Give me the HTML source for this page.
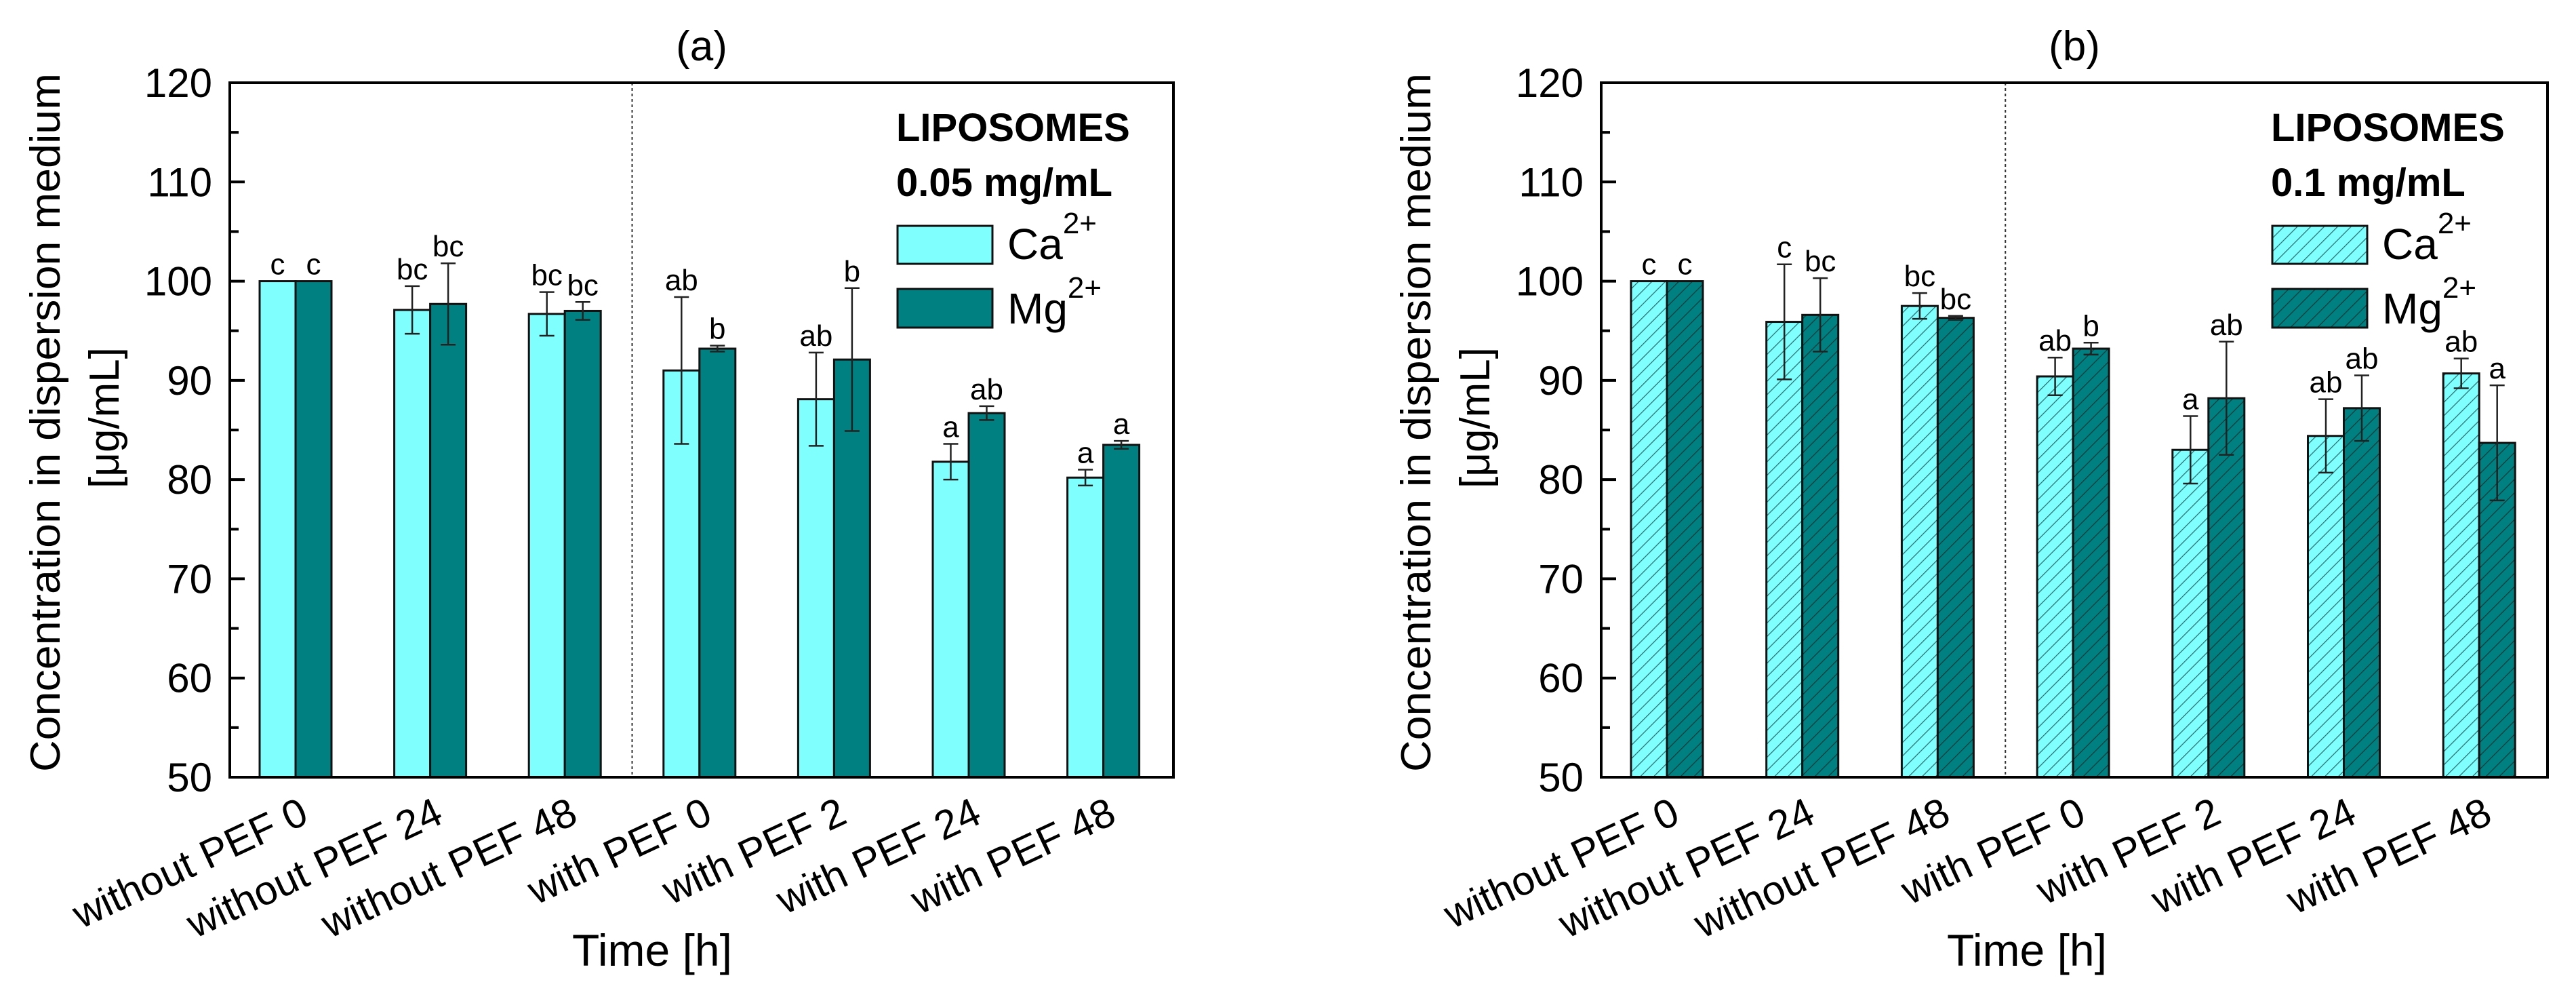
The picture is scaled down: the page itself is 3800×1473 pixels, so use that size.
<!DOCTYPE html>
<html><head><meta charset="utf-8"><style>
html,body{margin:0;padding:0;background:#fff;}
svg{display:block;font-family:"Liberation Sans",Arial,sans-serif;}
</style></head><body>
<svg id="chart" width="3800" height="1473" viewBox="0 0 3800 1473" xmlns="http://www.w3.org/2000/svg">
<defs>
<pattern id="hatchCa" patternUnits="userSpaceOnUse" width="14" height="14" patternTransform="rotate(45)">
<rect width="14" height="14" fill="#80ffff"/><line x1="0" y1="0" x2="0" y2="14" stroke="#2a6f6f" stroke-width="2.5"/></pattern>
<pattern id="hatchMg" patternUnits="userSpaceOnUse" width="14" height="14" patternTransform="rotate(45)">
<rect width="14" height="14" fill="#008080"/><line x1="0" y1="0" x2="0" y2="14" stroke="#0b3b3b" stroke-width="2.5"/></pattern>
</defs>
</svg>
<script>
// ---- data ----
const categories = ["without PEF 0","without PEF 24","without PEF 48","with PEF 0","with PEF 2","with PEF 24","with PEF 48"];
const yTicks = [50,60,70,80,90,100,110,120];
// panel (a) 0.05 mg/mL
const caA = [100,97.1,96.7,91.0,88.1,81.8,80.2];
const caErrA = [0,2.4,2.2,7.4,4.7,1.8,0.8];
const mgA = [100,97.7,97.0,93.2,92.1,86.7,83.5];
const mgErrA = [0,4.1,0.9,0.3,7.2,0.7,0.4];
const caLetA = ["c","bc","bc","ab","ab","a","a"];
const mgLetA = ["c","bc","bc","b","b","ab","a"];
// panel (b) 0.1 mg/mL
const caB = [100,95.9,97.5,90.4,83.0,84.4,90.7];
const caErrB = [0,5.8,1.3,1.9,3.4,3.7,1.5];
const mgB = [100,96.6,96.3,93.2,88.2,87.2,83.7];
const mgErrB = [0,3.7,0.2,0.6,5.7,3.3,5.8];
const caLetB = ["c","c","bc","ab","a","ab","ab"];
const mgLetB = ["c","bc","bc","b","ab","ab","a"];

const svg = document.getElementById('chart');
const NS = "http://www.w3.org/2000/svg";
function mk(tag, attrs, parent){
  const e = document.createElementNS(NS, tag);
  for (const k in attrs) e.setAttribute(k, attrs[k]);
  (parent||svg).appendChild(e);
  return e;
}
function txt(s, attrs, parent){ const e = mk('text', attrs, parent); e.textContent = s; return e; }

function panel(p){
  const g = mk('g', {});
  
  
  const top=122, bot=1146, L=p.left, R=p.right;
  const ymin=50, ymax=120;
  const y = v => bot - (v-ymin)/(ymax-ymin)*(bot-top);
  const step = p.step;
  const x = i => L + p.off + i*step;
  const bw = 53;

  // title
  const t = txt(p.title, {x:(L+R)/2, y:89, 'font-size':62, 'text-anchor':'middle'}, g);
  
  

  // divider
  const dv = mk('line', {x1:x(2.5), x2:x(2.5), y1:top, y2:bot, stroke:'#333', 'stroke-width':2, 'stroke-dasharray':'4,4'}, g);
  
  

  // bars
  for (let i=0;i<categories.length;i++){
    const series = [
      {v:p.ca[i], e:p.caErr[i], l:p.caLet[i], fill:p.caFill, xx:x(i)-bw, n:'ca'},
      {v:p.mg[i], e:p.mgErr[i], l:p.mgLet[i], fill:p.mgFill, xx:x(i), n:'mg'}
    ];
    for (const s of series){
      const r = mk('rect', {x:s.xx, y:y(s.v), width:bw, height:bot-y(s.v), fill:s.fill, stroke:'#111', 'stroke-width':3}, g);
      
      
      const cx = s.xx + bw/2;
      let topY = y(s.v);
      if (s.e>0){
        const eg = mk('g', {stroke:'#222','stroke-width':2.5}, g);
        
        
        mk('line',{x1:cx,x2:cx,y1:y(s.v+s.e),y2:y(s.v-s.e)},eg);
        mk('line',{x1:cx-11,x2:cx+11,y1:y(s.v+s.e),y2:y(s.v+s.e)},eg);
        mk('line',{x1:cx-11,x2:cx+11,y1:y(s.v-s.e),y2:y(s.v-s.e)},eg);
        topY = y(s.v+s.e);
      }
      const lt = txt(s.l, {x:cx, y:topY-10, 'font-size':44, 'text-anchor':'middle'}, g);
      
      
    }
    const xl = txt(categories[i], {x:0, y:0, 'font-size':60, 'text-anchor':'end', transform:`translate(${x(i)+22},${bot+66}) rotate(-25)`}, g);
    
    
  }

  // axes frame
  const fr = mk('rect', {x:L, y:top, width:R-L, height:bot-top, fill:'none', stroke:'#000', 'stroke-width':4}, g);
  
  

  // y ticks
  for (let k=0;k<yTicks.length;k++){
    const v = yTicks[k];
    mk('line', {x1:L, x2:L+22, y1:y(v), y2:y(v), stroke:'#000', 'stroke-width':4}, g);
    if (k<yTicks.length-1) mk('line', {x1:L, x2:L+13, y1:y(v+5), y2:y(v+5), stroke:'#000', 'stroke-width':4}, g);
    const tl = txt(String(v), {x:L-26, y:y(v)+21, 'font-size':60, 'text-anchor':'end'}, g);
    
    
  }

  // axis titles
  const yt = txt('Concentration in dispersion medium', {x:0, y:0, 'font-size':62, 'text-anchor':'middle', textLength:1030, lengthAdjust:'spacingAndGlyphs', transform:`translate(${p.ytx},623) rotate(-90)`}, g);
  
  
  const yt2 = txt('[\u03bcg/mL]', {x:0, y:0, 'font-size':62, 'text-anchor':'middle', transform:`translate(${p.ytx+87},616) rotate(-90)`}, g);
  
  
  const xt = txt('Time [h]', {x:p.xtx, y:1424, 'font-size':66, 'text-anchor':'middle'}, g);
  
  

  // legend
  const lg = mk('g', {}, g);
  
  
  txt('LIPOSOMES', {x:p.lx, y:208, 'font-size':58, 'font-weight':'bold'}, lg);
  txt(p.conc, {x:p.lx, y:289, 'font-size':58, 'font-weight':'bold'}, lg);
  const e1 = mk('rect', {x:p.lx+2, y:333, width:140, height:56, fill:p.caFill, stroke:'#111', 'stroke-width':3}, lg);
  
  
  const t1 = txt('Ca', {x:p.lx+164, y:382, 'font-size':64}, lg);
  const s1 = mk('tspan', {dy:-38, 'font-size':44}, t1); s1.textContent='2+';
  const e2 = mk('rect', {x:p.lx+2, y:426, width:140, height:57, fill:p.mgFill, stroke:'#111', 'stroke-width':3}, lg);
  
  
  const t2 = txt('Mg', {x:p.lx+164, y:477, 'font-size':64}, lg);
  const s2 = mk('tspan', {dy:-38, 'font-size':44}, t2); s2.textContent='2+';
}

panel({name:'panel-a', title:'(a)', left:339, right:1731, off:97, step:198.6,
  ca:caA, caErr:caErrA, mg:mgA, mgErr:mgErrA, caLet:caLetA, mgLet:mgLetA,
  caFill:'#80ffff', mgFill:'#008080', ytx:88, xtx:962, lx:1322, conc:'0.05 mg/mL'});
panel({name:'panel-b', title:'(b)', left:2362, right:3758, off:97, step:199.7,
  ca:caB, caErr:caErrB, mg:mgB, mgErr:mgErrB, caLet:caLetB, mgLet:mgLetB,
  caFill:'url(#hatchCa)', mgFill:'url(#hatchMg)', ytx:2110, xtx:2990, lx:3350, conc:'0.1 mg/mL'});
</script>
</body></html>
